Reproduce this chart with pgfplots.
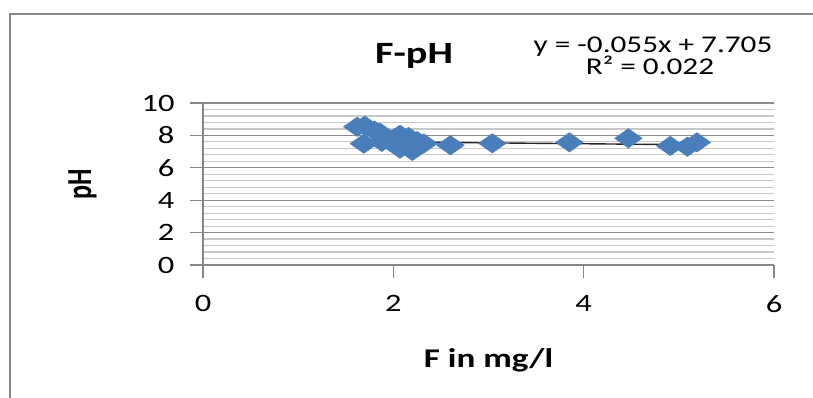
\documentclass[border=0pt]{standalone}
\usepackage{fontspec}
\setmainfont{Carlito}[FakeStretch=1.3]
\newfontfamily\plainfont{Carlito}
\usepackage{pgfplots}
\pgfplotsset{compat=1.18}
\definecolor{mkblue}{RGB}{74,126,187}
\definecolor{framec}{RGB}{134,134,134}
\definecolor{majgrid}{RGB}{140,140,140}
\definecolor{mingrid}{RGB}{200,200,200}
\pgfplotstableread{
F pH
1.62 8.53
1.70 8.60
1.69 7.49
1.80 8.30
1.86 8.17
1.88 7.60
1.97 7.61
2.02 7.85
2.07 8.04
2.07 7.18
2.12 7.40
2.16 7.90
2.20 7.04
2.25 7.65
2.32 7.50
2.60 7.39
3.04 7.51
3.85 7.57
4.47 7.82
4.91 7.35
5.09 7.30
5.19 7.57
}\datatable
\begin{document}
\begin{tikzpicture}
\useasboundingbox (0pt,0pt) rectangle (813pt,398pt);
\draw[framec, line width=2.5pt] (10pt,-5pt) -- (10pt,384pt) -- (820pt,384pt);
\begin{axis}[
  at={(203pt,133pt)}, anchor=south west,
  scale only axis, width=571pt, height=162pt,
  xmin=0, xmax=6, ymin=0, ymax=10,
  xtick={0,2,4,6}, ytick={0,2,4,6,8,10},
  minor y tick num=4,
  ymajorgrids, yminorgrids,
  major grid style={majgrid, line width=1.2pt},
  minor grid style={mingrid, line width=1.2pt},
  axis x line=bottom, axis y line=left,
  axis line style={-, framec, line width=1.5pt},
  tick align=outside, major tick length=13pt, minor tick length=0pt,
  tick style={framec, line width=1.2pt},
  /pgf/number format/assume math mode=true,
  ticklabel style={font=\fontsize{25}{29}\selectfont, text=black},
  yticklabel style={xshift=-12pt},
  xticklabel style={yshift=-14pt},
  xlabel={F in mg/l}, ylabel={pH},
  xlabel style={at={(axis description cs:0.5,-0.586)}, anchor=center, font=\bfseries\fontsize{27}{31}\selectfont},
  ylabel style={at={(axis description cs:-0.211,0.5)}, anchor=center, yscale=1.35, font=\plainfont\bfseries\fontsize{26}{30}\selectfont},
  clip=false,
]
\addplot[only marks, mark=diamond*, mark size=9.8pt, mark options={fill=mkblue, draw=mkblue, line width=0.3pt, xscale=1.89}] table[x=F, y=pH] {\datatable};
\addplot[black!85, line width=1.4pt] coordinates {(1.62,7.616) (5.21,7.418)};
\end{axis}
\node[anchor=base, font=\bfseries\fontsize{31}{35}\selectfont] at (414pt,334pt) {F-pH};
\node[anchor=base, font=\fontsize{24}{28}\selectfont] at (653pt,345pt) {y = -0.055x + 7.705};
\node[anchor=base, font=\fontsize{24}{28}\selectfont] at (650pt,323pt) {R² = 0.022};
\end{tikzpicture}
\end{document}
